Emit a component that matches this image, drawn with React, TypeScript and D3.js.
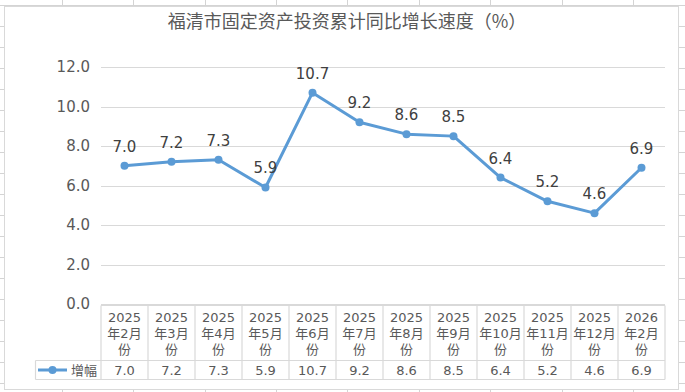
import { useEffect, useRef } from 'react'
import * as d3 from 'd3'

const title = '福清市固定资产投资累计同比增长速度（%）'
const seriesName = '增幅'
const categories = [
  ['2025', '年2月', '份'],
  ['2025', '年3月', '份'],
  ['2025', '年4月', '份'],
  ['2025', '年5月', '份'],
  ['2025', '年6月', '份'],
  ['2025', '年7月', '份'],
  ['2025', '年8月', '份'],
  ['2025', '年9月', '份'],
  ['2025', '年10月', '份'],
  ['2025', '年11月', '份'],
  ['2025', '年12月', '份'],
  ['2026', '年2月', '份'],
]
const values = [7.0, 7.2, 7.3, 5.9, 10.7, 9.2, 8.6, 8.5, 6.4, 5.2, 4.6, 6.9]
const yTicks = [0, 2, 4, 6, 8, 10, 12]

const W = 685
const H = 392
const FONT = "'DejaVu Sans', 'Noto Sans CJK SC', sans-serif"

export default function App() {
  const svgRef = useRef<SVGSVGElement>(null)

  useEffect(() => {
    if (!svgRef.current) return
    d3.select(svgRef.current).selectAll('*').remove()
    const svg = d3.select(svgRef.current)

    // spreadsheet grid behind the chart
    const sheet = svg.append('g').attr('stroke', '#d4d4d4').attr('stroke-width', 1)
    d3.range(0, 20).forEach((k) => {
      const y = 5.5 + 21 * k
      sheet.append('line').attr('x1', 0).attr('x2', W).attr('y1', y).attr('y2', y)
    })
    d3.range(0, 10).forEach((k) => {
      const x = Math.round(61.7 + 71.4 * k) + 0.5
      sheet.append('line').attr('x1', x).attr('x2', x).attr('y1', 0).attr('y2', H)
    })

    // chart area
    svg.append('rect')
      .attr('x', 4.5).attr('y', 6.5).attr('width', 674).attr('height', 383)
      .attr('fill', '#fff').attr('stroke', '#d9d9d9')

    svg.append('text')
      .attr('x', 347).attr('y', 28)
      .attr('text-anchor', 'middle')
      .attr('font-family', "'Noto Sans CJK SC', sans-serif")
      .attr('font-size', 18)
      .attr('fill', '#595959')
      .text(title)

    const left = 101
    const right = 665
    const x = d3.scaleBand<number>().domain(d3.range(values.length)).range([left, right])
    const y = d3.scaleLinear().domain([0, 12]).range([304, 67])

    const g = svg.append('g')

    // gridlines + y labels
    yTicks.forEach((t) => {
      const yy = Math.round(y(t)) + 0.5
      g.append('line')
        .attr('x1', left).attr('x2', right).attr('y1', yy).attr('y2', yy)
        .attr('stroke', '#d9d9d9')
      g.append('text')
        .attr('x', 90).attr('y', y(t)).attr('dy', '0.36em')
        .attr('text-anchor', 'end')
        .attr('font-family', FONT).attr('font-size', 15)
        .attr('fill', '#595959')
        .text(d3.format('.1f')(t))
    })

    const cx = (i: number) => (x(i) as number) + x.bandwidth() / 2

    const line = d3.line<number>().x((_, i) => cx(i)).y((d) => y(d))
    g.append('path')
      .datum(values)
      .attr('fill', 'none')
      .attr('stroke', '#5B9BD5')
      .attr('stroke-width', 3)
      .attr('stroke-linejoin', 'round')
      .attr('d', line)

    g.selectAll('circle.pt')
      .data(values)
      .enter()
      .append('circle')
      .attr('cx', (_, i) => cx(i))
      .attr('cy', (d) => y(d))
      .attr('r', 4)
      .attr('fill', '#5B9BD5')

    g.selectAll('text.lbl')
      .data(values)
      .enter()
      .append('text')
      .attr('x', (_, i) => cx(i))
      .attr('y', (d) => y(d) - 14)
      .attr('text-anchor', 'middle')
      .attr('font-family', FONT).attr('font-size', 15)
      .attr('fill', '#404040')
      .text((d) => d3.format('.1f')(d))

    // data table
    const tTop = 305.5
    const tMid = 360.5
    const tBot = 379.5
    const tb = svg.append('g').attr('stroke', '#d9d9d9').attr('stroke-width', 1.2)
    tb.append('line').attr('x1', left).attr('x2', right).attr('y1', tTop).attr('y2', tTop)
    tb.append('line').attr('x1', 35.5).attr('x2', right).attr('y1', tMid).attr('y2', tMid)
    tb.append('line').attr('x1', 35.5).attr('x2', right).attr('y1', tBot).attr('y2', tBot)
    tb.append('line').attr('x1', 35.5).attr('x2', 35.5).attr('y1', tMid).attr('y2', tBot)
    d3.range(values.length + 1).forEach((i) => {
      const xx = i === values.length ? right : (x(i) as number)
      tb.append('line').attr('x1', xx).attr('x2', xx).attr('y1', tTop).attr('y2', tBot)
    })

    categories.forEach((lines, i) => {
      lines.forEach((s, k) => {
        svg.append('text')
          .attr('x', cx(i)).attr('y', 317 + k * 16).attr('dy', '0.36em')
          .attr('text-anchor', 'middle')
          .attr('font-family', FONT).attr('font-size', 13)
          .attr('fill', '#595959')
          .text(s)
      })
      svg.append('text')
        .attr('x', cx(i)).attr('y', 370).attr('dy', '0.36em')
        .attr('text-anchor', 'middle')
        .attr('font-family', FONT).attr('font-size', 13)
        .attr('fill', '#595959')
        .text(d3.format('.1f')(values[i]))
    })

    // legend key
    svg.append('line')
      .attr('x1', 38).attr('x2', 67).attr('y1', 370).attr('y2', 370)
      .attr('stroke', '#5B9BD5').attr('stroke-width', 3)
    svg.append('circle').attr('cx', 52.5).attr('cy', 370).attr('r', 4).attr('fill', '#5B9BD5')
    svg.append('text')
      .attr('x', 71).attr('y', 370).attr('dy', '0.36em')
      .attr('font-family', FONT).attr('font-size', 13)
      .attr('fill', '#595959')
      .text(seriesName)
  }, [])

  return (
    <svg
      ref={svgRef}
      width={W}
      height={H}
      style={{ position: 'absolute', left: 0, top: 0, background: '#fff' }}
    />
  )
}
